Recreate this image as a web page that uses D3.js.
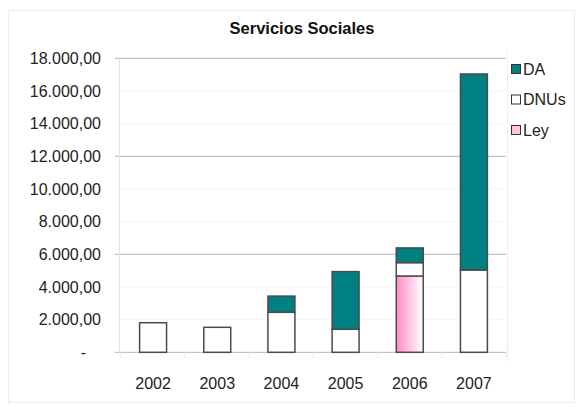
<!DOCTYPE html>
<html>
<head>
<meta charset="utf-8">
<script src="https://cdn.jsdelivr.net/npm/d3@7"></script>
<style>
  body { margin: 0; background: #fff; }
  svg { display: block; font-family: "Liberation Sans", Arial, sans-serif; }
</style>
</head>
<body>
<svg id="chart" width="576" height="407"></svg>
<script>
const years = ['2002', '2003', '2004', '2005', '2006', '2007'];
const ley = [0, 0, 0, 0, 4670, 0];
const dnus = [1810, 1530, 2450, 1410, 820, 5040];
const da = [0, 0, 990, 3530, 900, 12000];
const seriesNames = ['Ley', 'DNUs', 'DA'];
const yTicks = [0, 2000, 4000, 6000, 8000, 10000, 12000, 14000, 16000, 18000];

const svg = d3.select('#chart');

// outer chart frame
svg.append('rect')
  .attr('x', 8.5).attr('y', 10.5)
  .attr('width', 566).attr('height', 392)
  .attr('fill', 'none').attr('stroke', '#ececec');

const defs = svg.append('defs');
const grad = defs.append('linearGradient').attr('id', 'leyGrad')
  .attr('x1', '0%').attr('x2', '100%').attr('y1', '0%').attr('y2', '0%');
grad.append('stop').attr('offset', '0%').attr('stop-color', '#ff8cc6');
grad.append('stop').attr('offset', '100%').attr('stop-color', '#ffffff');

const x = d3.scaleBand()
  .domain(years)
  .range([121, 506])
  .paddingInner(0.58)
  .paddingOuter(0.29);

const y = d3.scaleLinear()
  .domain([0, 18000])
  .range([352.3, 58.3]);

// faint minor grid
svg.append('g').selectAll('line')
  .data(yTicks.filter(d => d % 6000 !== 0))
  .join('line')
  .attr('x1', 119).attr('x2', 506)
  .attr('y1', d => y(d)).attr('y2', d => y(d))
  .attr('stroke', '#f5f5f5');

// major grid
svg.append('g').selectAll('line')
  .data(yTicks.filter(d => d % 6000 === 0))
  .join('line')
  .attr('x1', 115).attr('x2', 506)
  .attr('y1', d => y(d)).attr('y2', d => y(d))
  .attr('stroke', '#c4c4c4').attr('stroke-width', 1.2);

// y axis line and plot right border
svg.append('line')
  .attr('x1', 119.5).attr('x2', 119.5)
  .attr('y1', y(18000)).attr('y2', y(0))
  .attr('stroke', '#e2e2e2');
svg.append('line')
  .attr('x1', 507.5).attr('x2', 507.5)
  .attr('y1', 50).attr('y2', 362)
  .attr('stroke', '#eeeeee');

// x ticks between categories
svg.append('g').selectAll('line')
  .data(years.concat(['end']))
  .join('line')
  .attr('x1', (d, i) => 121 + i * x.step())
  .attr('x2', (d, i) => 121 + i * x.step())
  .attr('y1', y(0)).attr('y2', y(0) + 6)
  .attr('stroke', '#e8e8e8');

// y tick labels
svg.append('g').selectAll('text')
  .data(yTicks)
  .join('text')
  .attr('x', d => d === 0 ? 86 : 101)
  .attr('y', d => y(d))
  .attr('dy', '0.36em')
  .attr('text-anchor', 'end')
  .attr('font-size', 16)
  .attr('fill', '#222')
  .text(d => d === 0 ? '-' : d3.format(',.2f')(d).replace(/,/g, '#').replace('.', ',').replace(/#/g, '.'));

// x labels
svg.append('g').selectAll('text')
  .data(years)
  .join('text')
  .attr('x', d => x(d) + x.bandwidth() / 2)
  .attr('y', 389)
  .attr('text-anchor', 'middle')
  .attr('font-size', 16)
  .attr('fill', '#222')
  .text(d => d);

// stacked bars
const rows = years.map((yr, i) => ({ year: yr, Ley: ley[i], DNUs: dnus[i], DA: da[i] }));
const stacked = d3.stack().keys(seriesNames)(rows);
const fills = { Ley: 'url(#leyGrad)', DNUs: '#ffffff', DA: '#008080' };

svg.append('g').selectAll('g')
  .data(stacked)
  .join('g')
  .attr('fill', d => fills[d.key])
  .selectAll('rect')
  .data(d => d.filter(s => s[1] - s[0] > 0))
  .join('rect')
  .attr('x', d => x(d.data.year))
  .attr('width', x.bandwidth())
  .attr('y', d => y(d[1]))
  .attr('height', d => y(d[0]) - y(d[1]))
  .attr('stroke', '#4a4a4a')
  .attr('stroke-width', 1.5);

// title
svg.append('text')
  .attr('x', 302).attr('y', 34)
  .attr('text-anchor', 'middle')
  .attr('font-size', 16.5)
  .attr('font-weight', 'bold')
  .attr('fill', '#111')
  .text('Servicios Sociales');

// legend
const legendItems = ['DA', 'DNUs', 'Ley'];
const legend = svg.append('g').selectAll('g')
  .data(legendItems)
  .join('g')
  .attr('transform', (d, i) => `translate(511, ${69 + i * 30.5})`);
legend.append('rect')
  .attr('x', 0.5).attr('y', -4.5)
  .attr('width', 9).attr('height', 9)
  .attr('fill', d => d === 'Ley' ? '#ffc4e2' : fills[d])
  .attr('stroke', '#333').attr('stroke-width', 1);
legend.append('text')
  .attr('x', 12).attr('y', 0)
  .attr('dy', '0.36em')
  .attr('font-size', 16)
  .attr('fill', '#222')
  .text(d => d);
</script>
</body>
</html>
